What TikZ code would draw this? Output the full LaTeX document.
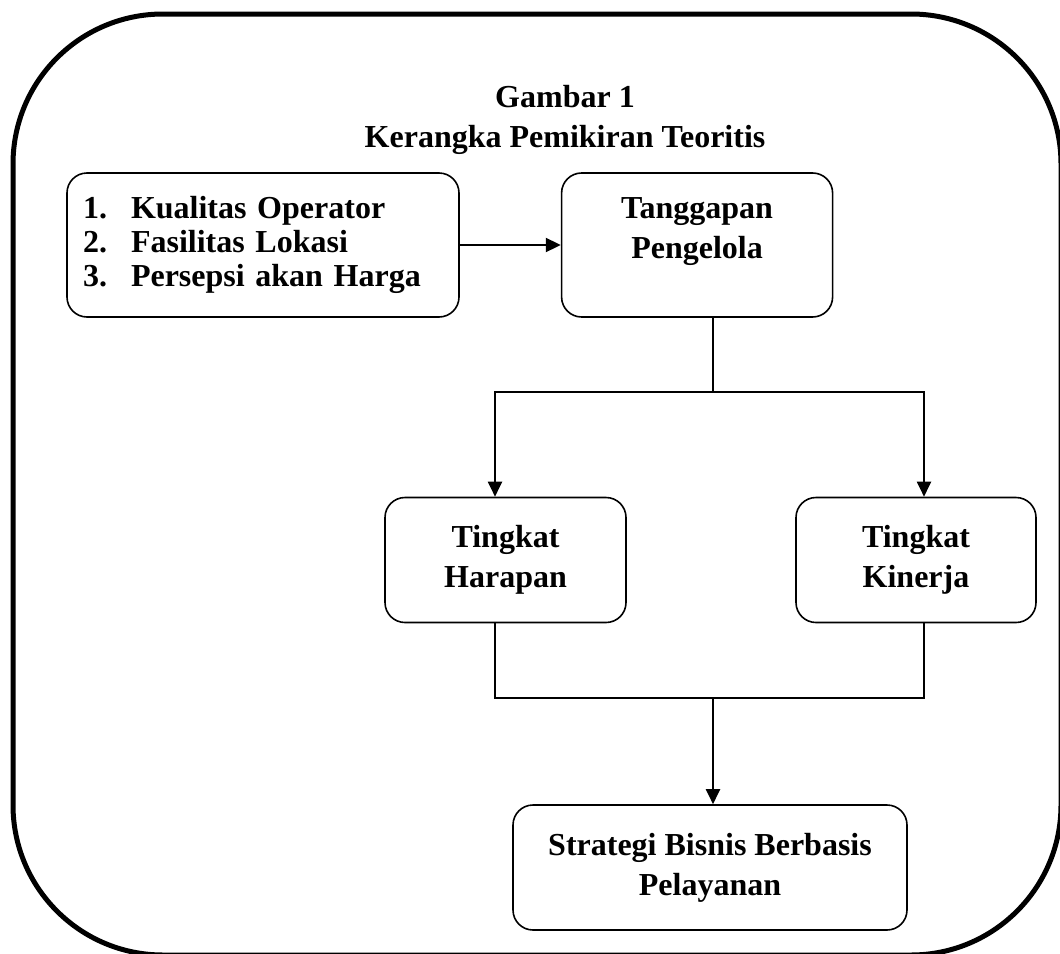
\documentclass[tikz,border=0pt]{standalone}
\usepackage{fontspec}
\setmainfont{Liberation Serif}
\usetikzlibrary{arrows.meta, positioning, calc}
\tikzset{
  konsep/.style={draw,line width=1.6pt,rounded corners=20pt,font=\fontsize{32}{40}\selectfont\bfseries,align=center},
  daftar/.style={konsep,align=left,text width=360pt,inner xsep=16pt,font=\fontsize{32}{34}\selectfont\bfseries},
  judul/.style={font=\fontsize{32}{40}\selectfont\bfseries,align=center},
  hubungan/.style={line width=2pt,-{Triangle[length=15pt,width=14pt]}},
  cabang/.style={line width=2pt},
}
\newcommand{\nomor}[1]{\makebox[48pt][l]{#1}}

\begin{document}
\begin{tikzpicture}[x=1pt,y=-1pt]
	    \useasboundingbox (0,0) rectangle (1060,953);
	    \draw[line width=5pt,rounded corners=150pt] (13,14) rectangle (1061,955);
	    \node[judul] (judul) at (565,120) {Gambar 1\\Kerangka Pemikiran Teoritis};
	    \node[daftar,minimum height=144pt] (kualitas) at (263,245) {\nomor{1.}Kualitas Operator\\ \nomor{2.}Fasilitas Lokasi\\ \nomor{3.}Persepsi akan Harga};
	    \node[konsep,minimum width=271pt,minimum height=144pt,right=101pt of kualitas] (tanggapan) {Tanggapan\\Pengelola\\[-6pt]};
	    \node[konsep,minimum width=241pt,minimum height=125pt] (harapan) at (505.5,560) {Tingkat\\Harapan};
	    \node[konsep,minimum width=240pt,minimum height=125pt] (kinerja) at (916,560) {Tingkat\\Kinerja};
	    \node[konsep,minimum width=394pt,minimum height=125pt] (strategi) at (710,867.5) {Strategi Bisnis Berbasis\\Pelayanan};
	    \coordinate (pisah) at (713,392);
	    \coordinate (gabung) at (713,698);
	    \draw[hubungan] (kualitas) -- (tanggapan);
	    \draw[cabang] (tanggapan.south -| pisah) -- (pisah);
	    \draw[hubungan] (pisah) -| ([xshift=-10.5pt]harapan.north);
	    \draw[hubungan] (pisah) -| ([xshift=8pt]kinerja.north);
	    \draw[cabang] ([xshift=-10.5pt]harapan.south) |- (gabung) -| ([xshift=8pt]kinerja.south);
	    \draw[hubungan] (gabung) -- (strategi.north -| gabung);
	\end{tikzpicture}
\end{document}
